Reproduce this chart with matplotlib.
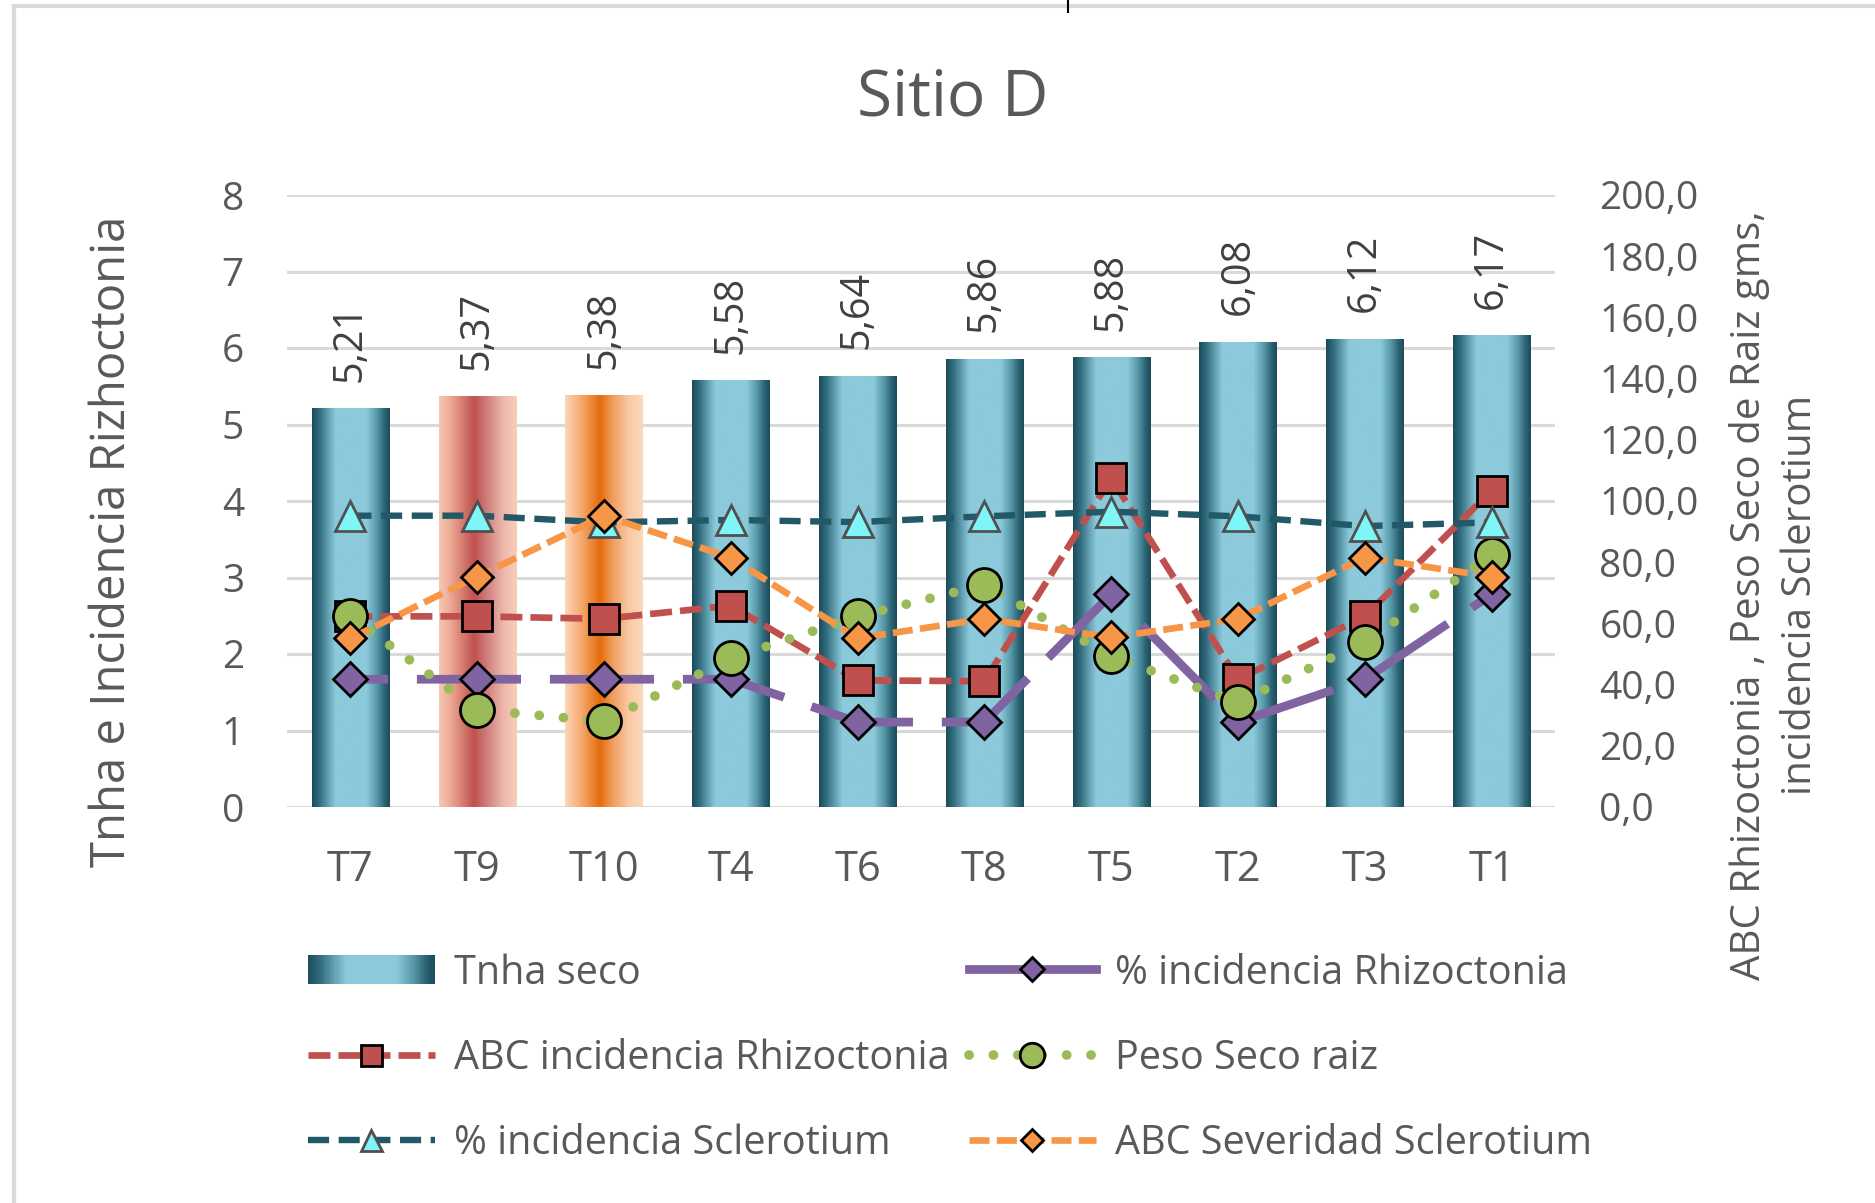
import numpy as np
import matplotlib
matplotlib.use("Agg")
import matplotlib.pyplot as plt
from matplotlib.colors import LinearSegmentedColormap
from matplotlib.legend_handler import HandlerBase
from matplotlib.patches import Rectangle, Patch
from matplotlib.lines import Line2D
from matplotlib.ticker import FuncFormatter

# ---------------- data ----------------
categories = ["T7", "T9", "T10", "T4", "T6", "T8", "T5", "T2", "T3", "T1"]
tnha_seco = [5.21, 5.37, 5.38, 5.58, 5.64, 5.86, 5.88, 6.08, 6.12, 6.17]
inc_rhizo = [1.67, 1.67, 1.67, 1.67, 1.11, 1.11, 2.78, 1.11, 1.67, 2.78]          # left axis
abc_rhizo = [62.3, 62.3, 61.5, 65.8, 41.4, 41.1, 107.5, 41.7, 62.3, 103.4]         # right axis
peso_raiz = [62.3, 31.8, 28.0, 48.6, 62.3, 72.6, 49.3, 34.2, 54.0, 82.2]           # right axis
inc_scler = [95.2, 95.2, 93.0, 93.8, 93.1, 95.0, 96.5, 95.0, 91.8, 93.0]           # right axis
abc_sev_scler = [55.1, 75.3, 95.2, 81.5, 55.1, 61.5, 55.4, 61.5, 81.5, 75.3]       # right axis
left_ticks = [0, 1, 2, 3, 4, 5, 6, 7, 8]
right_ticks = [0, 20, 40, 60, 80, 100, 120, 140, 160, 180, 200]

title = "Sitio D"
left_label = "Tnha e Incidencia Rizhoctonia"
right_label = "ABC Rhizoctonia , Peso Seco de Raiz gms,\nincidencia Sclerotium"
labels = ["Tnha seco", "% incidencia Rhizoctonia", "ABC incidencia Rhizoctonia",
          "Peso Seco raiz", "% incidencia Sclerotium", "ABC Severidad Sclerotium"]

# ---------------- style ----------------
FONT = ["Open Sans", "DejaVu Sans"]
plt.rcParams["font.family"] = FONT
TXT = "#595959"
GRID = "#d9d9d9"

teal_cm = LinearSegmentedColormap.from_list("teal", [
    (0.00, "#1b4b5a"), (0.10, "#336f80"), (0.30, "#8ccadb"), (0.70, "#8ccadb"),
    (0.84, "#5495a6"), (0.93, "#2c6575"), (1.00, "#1b4b5a")])
red_cm = LinearSegmentedColormap.from_list("red", [
    (0.00, "#f6c8b2"), (0.15, "#eba994"), (0.45, "#c0504d"), (0.60, "#cd7a78"),
    (0.82, "#ecb6aa"), (1.00, "#f8cfba")])
orange_cm = LinearSegmentedColormap.from_list("orange", [
    (0.00, "#fcd6b8"), (0.18, "#f7b07a"), (0.45, "#e46c0a"), (0.60, "#ef9a5a"),
    (0.82, "#fac9a3"), (1.00, "#fcd8bb")])
bar_cmaps = [teal_cm, red_cm, orange_cm] + [teal_cm] * 7

W, H = 1875, 1203
fig = plt.figure(figsize=(W / 100, H / 100), dpi=100)
ax_l, ax_r, ax_t, ax_b = 287, 1555, 195, 807
ax = fig.add_axes([ax_l / W, 1 - ax_b / H, (ax_r - ax_l) / W, (ax_b - ax_t) / H])
ax2 = ax.twinx()

x = np.arange(len(categories))

# bars with cylinder-like gradient
bars = ax.bar(x, tnha_seco, width=0.61, facecolor="none", edgecolor="none", zorder=2)
grad = np.linspace(0, 1, 256).reshape(1, -1)
for rect, cm in zip(bars, bar_cmaps):
    x0, w, h = rect.get_x(), rect.get_width(), rect.get_height()
    im = ax.imshow(grad, cmap=cm, extent=[x0, x0 + w, 0, h], aspect="auto",
                   zorder=2, interpolation="bilinear")
    im.set_clip_path(rect)

for xi, v in zip(x, tnha_seco):
    ax.annotate(f"{v:.2f}".replace(".", ","), (xi, v), xytext=(0, 19),
                textcoords="offset points", rotation=90, ha="center", va="bottom",
                fontsize=28.5, color="#404040")

# left axis line
purple_style = dict(color="#8064a2", lw=6.3, marker="D", ms=17.5, mfc="#8064a2",
                    mec="black", mew=2.0)
l_purple, = ax.plot(x, inc_rhizo, ls=(7.6, (11.9, 3.3)), zorder=4, **purple_style)

# right axis lines
l_red, = ax2.plot(x, abc_rhizo, color="#c0504d", lw=4.8, dashes=(3.3, 1.2),
                  marker="s", ms=21, mfc="#c0504d", mec="black", mew=2.0, zorder=3)
l_green, = ax2.plot(x, peso_raiz, color="#9bbb59", lw=7.0, dashes=(0.01, 2.5),
                    dash_capstyle="round", marker="o", ms=24.5, mfc="#9bbb59",
                    mec="black", mew=2.0, zorder=4)
l_teal, = ax2.plot(x, inc_scler, color="#215968", lw=4.6, dashes=(3.3, 1.5),
                   marker="^", ms=21, mfc="#7ff5f7", mec="#505050", mew=2.0, zorder=5)
l_orange, = ax2.plot(x, abc_sev_scler, color="#f79646", lw=4.8, dashes=(3.0, 1.1),
                     marker="D", ms=16, mfc="#f79646", mec="black", mew=2.0, zorder=6)

# axes cosmetics
ax.set_xlim(-0.5, len(categories) - 0.5)
ax.set_ylim(0, 8)
ax2.set_ylim(0, 200)
ax.set_yticks(left_ticks)
ax2.set_yticks(right_ticks)
ax2.yaxis.set_major_formatter(FuncFormatter(lambda v, p: f"{v:.1f}".replace(".", ",")))
ax.set_xticks(x)
ax.set_xticklabels(categories)
for a in (ax, ax2):
    for s in a.spines.values():
        s.set_visible(False)
ax.tick_params(axis="y", length=0, pad=31, labelsize=28, labelcolor=TXT)
ax.tick_params(axis="x", length=0, pad=30, labelsize=30, labelcolor=TXT)
ax2.tick_params(axis="y", length=0, pad=32, labelsize=28, labelcolor=TXT)
ax.set_axisbelow(True)
ax.yaxis.grid(True, color=GRID, lw=2.2, zorder=0)
ax.xaxis.grid(False)

# titles
fig.text(953 / W, 1 - 98 / H, title, ha="center", va="center", fontsize=46, color=TXT)
fig.text(112 / W, 1 - 541 / H, left_label, rotation=90, ha="center", va="center",
         fontsize=34, color=TXT)
fig.text(1775 / W, 1 - 595 / H, right_label, rotation=90, ha="center", va="center",
         fontsize=29, color=TXT, linespacing=1.35, multialignment="center")


# legend
class GradientHandler(HandlerBase):
    def __init__(self, cmap, n=60):
        super().__init__()
        self.cmap, self.n = cmap, n

    def create_artists(self, legend, orig_handle, xdescent, ydescent, width, height,
                       fontsize, trans):
        arts = []
        for i in range(self.n):
            arts.append(Rectangle((-xdescent + i * width / self.n, -ydescent),
                                  width / self.n * 1.1, height,
                                  facecolor=self.cmap((i + 0.5) / self.n),
                                  edgecolor="none", transform=trans))
        return arts


bar_proxy = Patch(facecolor="#8ccadb")
purple_proxy = Line2D([], [], ls="-", **purple_style)
common = dict(frameon=False, fontsize=28.5, labelcolor=TXT, handlelength=3.2,
              handleheight=0.75, handletextpad=0.5, labelspacing=1.13,
              borderpad=0, borderaxespad=0, markerscale=0.72, numpoints=1, loc="upper left")
fig.legend([bar_proxy, l_red, l_teal], [labels[0], labels[2], labels[4]],
           bbox_to_anchor=(308 / W, 1 - 953 / H), handler_map={bar_proxy: GradientHandler(teal_cm)},
           **common)
fig.legend([purple_proxy, l_green, l_orange], [labels[1], labels[3], labels[5]],
           bbox_to_anchor=(969 / W, 1 - 953 / H), **common)

# outer border of chart area
fig.add_artist(Line2D([14 / W, 14 / W], [0, 1 - 6 / H], transform=fig.transFigure,
                      color=GRID, lw=3))
fig.add_artist(Line2D([14 / W, 1], [1 - 6 / H, 1 - 6 / H], transform=fig.transFigure,
                      color=GRID, lw=3))
fig.add_artist(Line2D([1068 / W, 1068 / W], [1, 1 - 12 / H], transform=fig.transFigure,
                      color="black", lw=1.5))

fig.savefig("out.png", dpi=100)
